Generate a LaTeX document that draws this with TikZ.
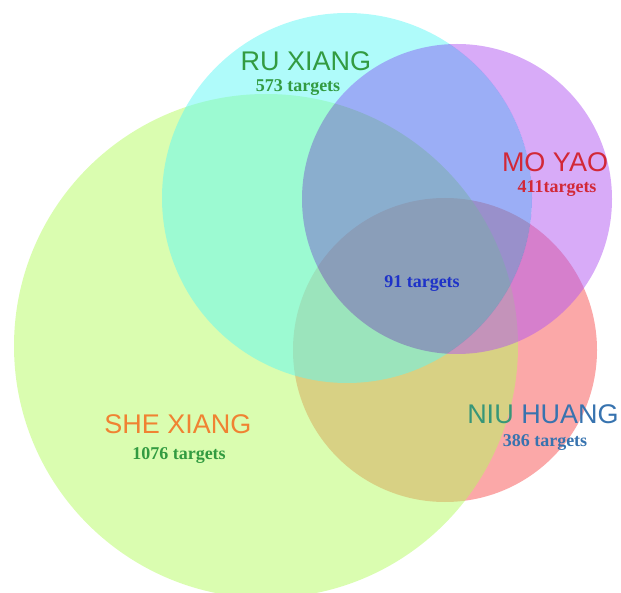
\documentclass[tikz,border=0pt]{standalone}
\usepackage{fontspec}
\setmainfont{Liberation Serif}
\setsansfont{Liberation Sans}
\definecolor{niucol}{RGB}{247,81,81}
\definecolor{shecol}{RGB}{181,251,97}
\definecolor{rucol}{RGB}{95,247,245}
\definecolor{mocol}{RGB}{177,87,241}
\definecolor{momix}{RGB}{228,178,252}
\definecolor{rutext}{RGB}{50,155,65}
\definecolor{motext}{RGB}{210,40,55}
\definecolor{alltext}{RGB}{30,50,200}
\definecolor{niutext}{RGB}{55,150,120}
\definecolor{huangtext}{RGB}{55,115,175}
\definecolor{shetext}{RGB}{240,130,50}
\tikzstyle{herb}=[circle,inner sep=0pt,fill opacity=0.5]
\tikzstyle{herbname}=[inner sep=0pt,font=\sffamily\fontsize{27}{27}\selectfont]
\tikzstyle{targets}=[inner sep=0pt,font=\bfseries\fontsize{18}{18}\selectfont]

\begin{document}
\begin{tikzpicture}[x=1pt,y=-1pt]
                    \useasboundingbox (0,0) rectangle (621,593);
                    \node (niu) at (445,350) [herb,fill=niucol,minimum size=304pt] {};
                    \node (she) at (266,346) [herb,fill=shecol,minimum size=504pt] {};
                    \node (ru) at (347,198) [herb,fill=rucol,minimum size=370pt] {};

                    % mo yao: plain outside ru xiang, darker inside it
                    \begin{scope}[even odd rule]
                        \clip (ru.center) circle (185) (-10,-10) rectangle (631,603);
                        \node (mo) at (457,199) [herb,fill=mocol,minimum size=310pt] {};
                    \end{scope}
                    \begin{scope}[blend mode=multiply]
                        \clip (ru.center) circle (185);
                        \fill [momix] (mo.center) circle (155);
                    \end{scope}

                    \node (runame) at (306,61) [herbname,text=rutext] {RU XIANG};
                    \node (runum) at (298,88) [targets,text=rutext] {573 targets};
                    \node (moname) at (555,162) [herbname,text=motext] {MO YAO};
                    \node (monum) at (557,189) [targets,text=motext] {411targets};
                    \node (allnum) at (422,284) [targets,text=alltext] {91 targets};
                    \node (niuname) at (543,414) [herbname] {\textcolor{niutext}{NIU} \textcolor{huangtext}{HUANG}};
                    \node (niunum) at (545,442) [targets,text=huangtext] {386 targets};
                    \node (shename) at (178,424) [herbname,text=shetext] {SHE XIANG};
                    \node (shenum) at (179,456) [targets,text=rutext] {1076 targets};
                \end{tikzpicture}
\end{document}
